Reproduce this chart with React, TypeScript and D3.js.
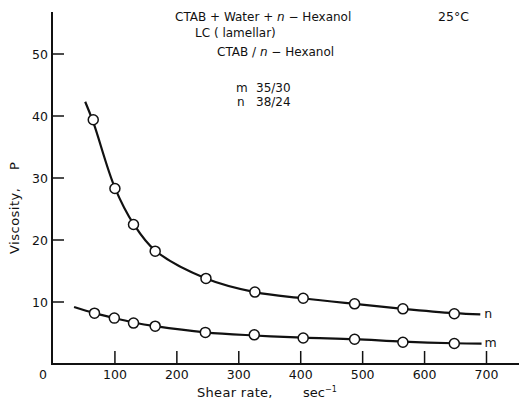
import React from "react";
import * as d3 from "d3";

const xTicks = [100, 200, 300, 400, 500, 600, 700];
const yTicks = [10, 20, 30, 40, 50];

// measured points (shear rate, viscosity)
const nRate = [65, 100, 130, 165, 247, 326, 404, 487, 565, 648];
const nVisc = [39.4, 28.3, 22.5, 18.2, 13.8, 11.6, 10.6, 9.7, 8.9, 8.1];
const mRate = [67, 99, 130, 165, 246, 325, 404, 487, 565, 648];
const mVisc = [8.2, 7.4, 6.6, 6.1, 5.1, 4.7, 4.2, 4.0, 3.5, 3.3];

// hand-drawn curves
const nCurveRate = [52, 65, 100, 130, 165, 247, 326, 404, 487, 565, 648, 690];
const nCurveVisc = [42.3, 39.0, 28.4, 22.6, 18.3, 13.8, 11.6, 10.6, 9.7, 8.9, 8.2, 8.0];
const mCurveRate = [34, 67, 99, 130, 165, 246, 325, 404, 487, 565, 648, 692];
const mCurveVisc = [9.2, 8.2, 7.4, 6.7, 6.1, 5.1, 4.6, 4.25, 4.0, 3.6, 3.35, 3.3];

const W = 519;
const H = 401;

export default function App() {
  const x = d3.scaleLinear().domain([0, 700]).range([53, 486.5]);
  const y = d3.scaleLinear().domain([0, 50]).range([364, 54]);
  const line = d3
    .line<[number, number]>()
    .x((d) => x(d[0]))
    .y((d) => y(d[1]))
    .curve(d3.curveCatmullRom.alpha(0.5));
  const nCurve = nCurveRate.map((r, i) => [r, nCurveVisc[i]] as [number, number]);
  const mCurve = mCurveRate.map((r, i) => [r, mCurveVisc[i]] as [number, number]);
  const font = "'DejaVu Sans', sans-serif";
  const x0 = 52;
  const yBase = 364;

  return (
    <svg
      width={W}
      height={H}
      style={{ position: "absolute", left: 0, top: 0, background: "#fff" }}
      fontFamily={font}
    >
      {/* axes */}
      <line x1={x0} y1={12} x2={x0} y2={yBase} stroke="#111" strokeWidth={2} />
      <line x1={x0 - 1} y1={yBase} x2={W} y2={yBase} stroke="#111" strokeWidth={2} />
      {yTicks.map((t) => (
        <g key={"y" + t}>
          <line x1={x0} x2={x0 + 12} y1={y(t)} y2={y(t)} stroke="#111" strokeWidth={1.5} />
          <text x={x0 - 4} y={y(t) + 4.5} textAnchor="end" fontSize={12.5} fill="#111">
            {t}
          </text>
        </g>
      ))}
      {xTicks.map((t) => (
        <g key={"x" + t}>
          <line x1={x(t)} x2={x(t)} y1={yBase} y2={yBase - 13} stroke="#111" strokeWidth={1.5} />
          <text x={x(t)} y={yBase + 14.5} textAnchor="middle" fontSize={12.5} fill="#111">
            {t}
          </text>
        </g>
      ))}
      <text x={x(0) - 10} y={yBase + 14.5} textAnchor="middle" fontSize={12.5} fill="#111">
        0
      </text>

      {/* axis titles */}
      <text
        transform={`translate(19, 254) rotate(-90)`}
        fontSize={13}
        fill="#111"
        letterSpacing={0.5}
      >
        Viscosity,
      </text>
      <text transform={`translate(19, 170) rotate(-90)`} fontSize={13} fill="#111">
        P
      </text>
      <text x={197} y={397} fontSize={13} fill="#111" letterSpacing={0.3}>
        Shear rate,
      </text>
      <text x={303} y={397} fontSize={13} fill="#111">
        sec
        <tspan dy={-5} fontSize={8}>
          −1
        </tspan>
      </text>

      {/* curves */}
      <path d={line(nCurve) || ""} fill="none" stroke="#111" strokeWidth={2.2} />
      <path d={line(mCurve) || ""} fill="none" stroke="#111" strokeWidth={2.2} />

      {nRate.map((r, i) => (
        <circle key={"n" + i} cx={x(r)} cy={y(nVisc[i])} r={5} fill="#fff" stroke="#111" strokeWidth={1.5} />
      ))}
      {mRate.map((r, i) => (
        <circle key={"m" + i} cx={x(r)} cy={y(mVisc[i])} r={5} fill="#fff" stroke="#111" strokeWidth={1.5} />
      ))}

      <text x={x(nCurveRate[nCurveRate.length - 1]) + 4} y={y(nCurveVisc[nCurveVisc.length - 1]) + 4} fontSize={12.5} fill="#111">
        n
      </text>
      <text x={x(mCurveRate[mCurveRate.length - 1]) + 3} y={y(mCurveVisc[mCurveVisc.length - 1]) + 3} fontSize={12.5} fill="#111">
        m
      </text>

      {/* annotations */}
      <text x={175} y={21} fontSize={12} fill="#111">
        CTAB + Water + <tspan fontStyle="italic">n</tspan> − Hexanol
      </text>
      <text x={195} y={37} fontSize={12} fill="#111">
        LC ( lamellar)
      </text>
      <text x={217} y={56} fontSize={12} fill="#111">
        CTAB / <tspan fontStyle="italic">n</tspan> − Hexanol
      </text>
      <text x={236} y={92} fontSize={12} fill="#111">m</text>
      <text x={256} y={92} fontSize={12} fill="#111">35/30</text>
      <text x={237} y={106} fontSize={12} fill="#111">n</text>
      <text x={256} y={106} fontSize={12} fill="#111">38/24</text>
      <text x={438} y={21} fontSize={12.5} fill="#111">
        25°C
      </text>
    </svg>
  );
}
